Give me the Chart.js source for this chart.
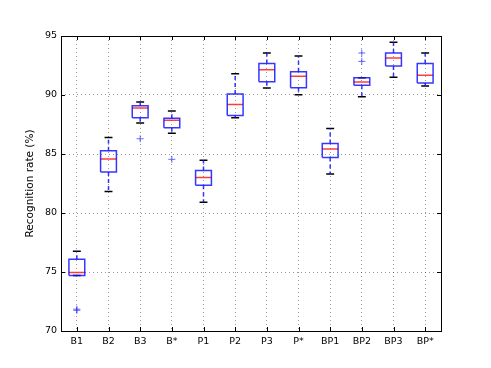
<!DOCTYPE html>
<html>
<head>
<meta charset="utf-8">
<script src="https://cdn.jsdelivr.net/npm/chart.js@4/dist/chart.umd.min.js"></script>
<style>
html,body{margin:0;padding:0;background:#fff;}
canvas{display:block;}
</style>
</head>
<body>
<canvas id="c" width="491" height="368"></canvas>
<script>
const categories = ['B1','B2','B3','B*','P1','P2','P3','P*','BP1','BP2','BP3','BP*'];
const whiskerLow  = [74.70, 81.83, 87.62, 86.75, 80.92, 88.07, 90.59, 90.02, 83.30, 89.86, 91.50, 90.76];
const q1          = [74.70, 83.47, 88.07, 87.22, 82.36, 88.27, 91.13, 90.62, 84.71, 90.82, 92.46, 91.01];
const medians     = [74.96, 84.57, 88.89, 87.85, 83.01, 89.20, 92.15, 91.58, 85.42, 91.10, 93.13, 91.67];
const q3          = [76.08, 85.28, 89.09, 88.02, 83.61, 90.08, 92.68, 91.98, 85.90, 91.47, 93.56, 92.68];
const whiskerHigh = [76.76, 86.40, 89.40, 88.64, 84.48, 91.80, 93.56, 93.30, 87.17, 91.47, 94.46, 93.56];
const outlierCat  = ['B1','B1','B3','B*','BP2','BP2'];
const outlierVal  = [71.75, 71.85, 86.29, 84.55, 93.56, 92.85];
const yTicks = [70, 75, 80, 85, 90, 95];

const BOX_HALF = 0.25, CAP_HALF = 0.125;
const BLUE = 'rgba(20,20,255,0.85)', RED = 'rgba(255,40,40,0.9)';

const boxPts = [], medPts = [], whiskPts = [], capPts = [];
categories.forEach((c, i) => {
  const x = i + 1;
  boxPts.push({x:x-BOX_HALF,y:q1[i]},{x:x+BOX_HALF,y:q1[i]},{x:x+BOX_HALF,y:q3[i]},{x:x-BOX_HALF,y:q3[i]},{x:x-BOX_HALF,y:q1[i]},{x:x,y:null});
  medPts.push({x:x-BOX_HALF,y:medians[i]},{x:x+BOX_HALF,y:medians[i]},{x:x,y:null});
  whiskPts.push({x:x,y:q3[i]},{x:x,y:whiskerHigh[i]},{x:x,y:null},{x:x,y:q1[i]},{x:x,y:whiskerLow[i]},{x:x,y:null});
  capPts.push({x:x-CAP_HALF,y:whiskerHigh[i]},{x:x+CAP_HALF,y:whiskerHigh[i]},{x:x,y:null},{x:x-CAP_HALF,y:whiskerLow[i]},{x:x+CAP_HALF,y:whiskerLow[i]},{x:x,y:null});
});
const outPts = outlierCat.map((c, k) => ({x: categories.indexOf(c) + 1, y: outlierVal[k]}));

const lineDs = (data, color, extra) => Object.assign({
  type:'line', data, borderColor:color, borderWidth:1.5, pointRadius:0, fill:false,
  spanGaps:false, tension:0
}, extra || {});

const frame = {
  id:'frame',
  afterDraw(chart){
    const {ctx, chartArea:a, scales} = chart;
    ctx.save();
    ctx.strokeStyle = '#000';
    ctx.lineWidth = 1;
    ctx.beginPath();
    scales.y.ticks.forEach(t => {
      const py = Math.round(scales.y.getPixelForValue(t.value)) + 0.5;
      ctx.moveTo(a.left, py); ctx.lineTo(a.left + 4, py);
      ctx.moveTo(a.right, py); ctx.lineTo(a.right - 4, py);
    });
    scales.x.ticks.forEach(t => {
      const px = Math.round(scales.x.getPixelForValue(t.value)) + 0.5;
      ctx.moveTo(px, a.bottom); ctx.lineTo(px, a.bottom - 4);
      ctx.moveTo(px, a.top); ctx.lineTo(px, a.top + 4);
    });
    ctx.stroke();
    ctx.strokeRect(Math.round(a.left)+0.5, Math.round(a.top)+0.5, Math.round(a.right-a.left), Math.round(a.bottom-a.top));
    ctx.restore();
  }
};

new Chart(document.getElementById('c'), {
  type:'scatter',
  data:{ datasets:[
    lineDs(whiskPts, BLUE, {borderDash:[4,3]}),
    lineDs(boxPts, BLUE),
    lineDs(medPts, RED),
    lineDs(capPts, '#000'),
    {type:'scatter', data:outPts, pointStyle:'cross', pointRadius:3.5, borderColor:'rgba(40,40,255,0.7)', borderWidth:1, backgroundColor:BLUE}
  ]},
  options:{
    responsive:false, animation:false, devicePixelRatio:1,
    layout:{padding:{left:0, top:36, right:50, bottom:0}},
    plugins:{legend:{display:false}, tooltip:{enabled:false}},
    scales:{
      x:{
        type:'linear', min:0.5, max:12.5,
        afterBuildTicks(s){ s.ticks = categories.map((c,i)=>({value:i+1})); },
        afterFit(s){ s.height = 37; },
        ticks:{ callback:(v)=>categories[v-1], color:'#000', padding:5, autoSkip:false, maxRotation:0,
                font:{family:'DejaVu Sans', size:9.5} },
        grid:{ color:'rgba(0,0,0,0.4)', lineWidth:1, drawTicks:false },
        border:{ display:false, dash:[1,3] }
      },
      y:{
        min:70, max:95,
        afterBuildTicks(s){ s.ticks = yTicks.map(v=>({value:v})); },
        afterFit(s){ s.width = 61; },
        ticks:{ color:'#000', padding:4, font:{family:'DejaVu Sans', size:9.5} },
        grid:{ color:'rgba(0,0,0,0.4)', lineWidth:1, drawTicks:false },
        border:{ display:false, dash:[1,3] },
        title:{ display:true, text:'Recognition rate (%)', color:'#000',
                font:{family:'DejaVu Sans', size:10.5}, padding:{top:24, bottom:0} }
      }
    }
  },
  plugins:[frame]
});
</script>
</body>
</html>
